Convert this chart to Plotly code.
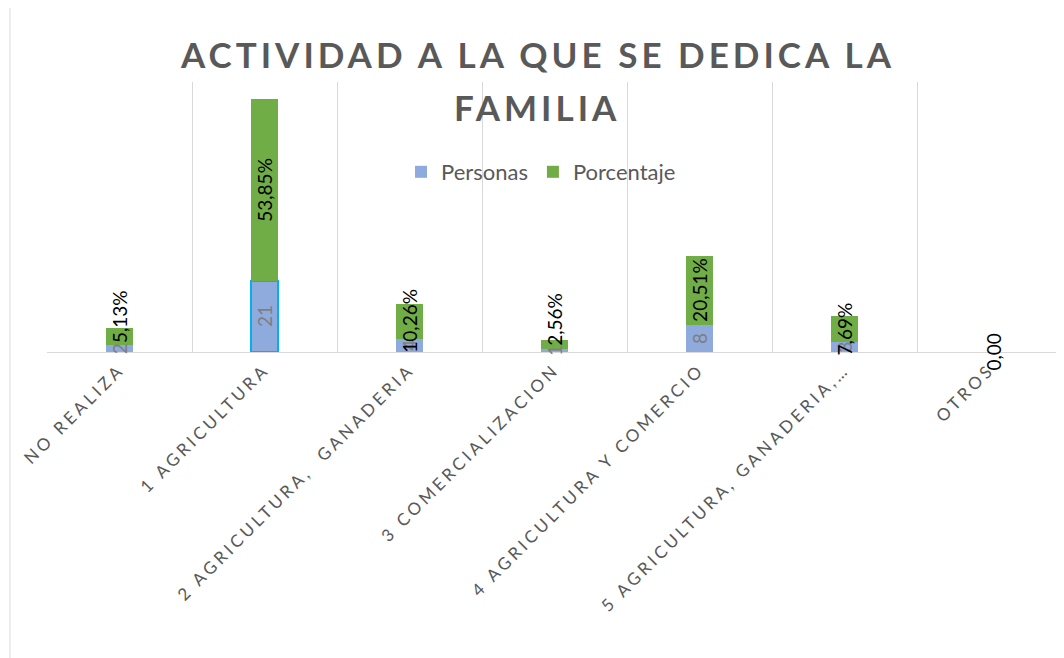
import plotly.graph_objects as go

categories = ["NO REALIZA", "1 AGRICULTURA", "2 AGRICULTURA,  GANADERIA",
              "3 COMERCIALIZACION", "4 AGRICULTURA Y COMERCIO",
              "5 AGRICULTURA, GANADERIA,…", "OTROS"]
personas = [2, 21, 4, 1, 8, 3, 0]
porcentaje = [5.13, 53.85, 10.26, 2.56, 20.51, 7.69, 0.00]

BLUE = "#8FAADC"
GREEN = "#70AD47"
GRAY = "#595959"
GRID = "#D9D9D9"
FONT = "Lato"

# page body has an 8px margin; layout numbers below are in figure pixels
W, H = 1056, 650
L, T, R, B = 39, 74, 2, 306
PW = W - L - R
PH = H - T - B


def py(fig_y):
    return (H - B - fig_y) / PH


def px(fig_x):
    return (fig_x - L) / PW


fig = go.Figure()
fig.add_trace(go.Bar(
    x=categories, y=personas, name="Personas",
    marker=dict(color=BLUE,
                line=dict(color=["#00B0F0" if i == 1 else BLUE for i in range(len(categories))],
                          width=[2 if i == 1 else 0 for i in range(len(categories))])),
))
fig.add_trace(go.Bar(
    x=categories, y=porcentaje, name="Porcentaje",
    marker=dict(color=GREEN, line=dict(width=0)),
))


def fmt_pct(v):
    if v == 0:
        return "0,00"
    return f"{v:.2f}".replace(".", ",") + "%"


# nudges for labels Excel moved upward (pixels)
green_nudge = {0: 20, 3: 25}

for i, c in enumerate(categories):
    p = personas[i]
    g = porcentaje[i]
    if p > 0:
        fig.add_annotation(x=c, y=p / 2, text=str(p), textangle=-90, showarrow=False,
                           font=dict(family=FONT, size=19, color="#7F7F7F"),
                           xanchor="center", yanchor="middle")
    fig.add_annotation(x=c, y=p + g / 2, text=fmt_pct(g), textangle=-90, showarrow=False,
                       font=dict(family=FONT, size=19, color="#000000"),
                       xanchor="center", yanchor="middle", yshift=green_nudge.get(i, 0),
                       xshift=3 if g == 0 else 0)


def spaced(s, sp):
    return f'<span style="letter-spacing:{sp}px">{s}</span>'


title_lines = ["ACTIVIDAD A LA QUE SE DEDICA LA", "FAMILIA"]
for line, fy in zip(title_lines, [46, 99]):
    fig.add_annotation(xref="paper", yref="paper", x=px(529), y=py(fy),
                       text=spaced(line, 4), showarrow=False,
                       font=dict(family=FONT, size=35, color=GRAY, weight="bold"),
                       xanchor="center", yanchor="middle")

fig.update_layout(
    barmode="stack",
    bargap=0.81,
    width=W, height=H,
    margin=dict(l=L, r=R, t=T, b=B),
    paper_bgcolor="white", plot_bgcolor="white",
    legend=dict(orientation="h", x=px(533), xanchor="center", y=py(164), yanchor="middle",
                font=dict(family=FONT, size=22, color=GRAY), bgcolor="rgba(0,0,0,0)",
                traceorder="normal"),
    showlegend=True,
    xaxis=dict(type="category", tickson="boundaries", showgrid=True, gridcolor=GRID, gridwidth=1,
               showline=True, linecolor=GRID, linewidth=1, ticks="",
               tickangle=-45, tickmode="array", tickvals=categories,
               ticktext=[spaced(c, 3.5) for c in categories],
               tickfont=dict(family=FONT, size=17, color=GRAY), range=[-0.5, 6.5]),
    yaxis=dict(range=[0, 80], visible=False, showgrid=False, zeroline=False),
)

# chart-area border (left and top edges visible)
fig.add_shape(type="line", xref="paper", yref="paper",
              x0=px(2), x1=px(2), y0=py(700), y1=py(-2),
              line=dict(color=GRID, width=1))
fig.add_shape(type="line", xref="paper", yref="paper",
              x0=px(2), x1=px(1100), y0=py(-2), y1=py(-2),
              line=dict(color=GRID, width=1))

fig.write_html("out.html")
